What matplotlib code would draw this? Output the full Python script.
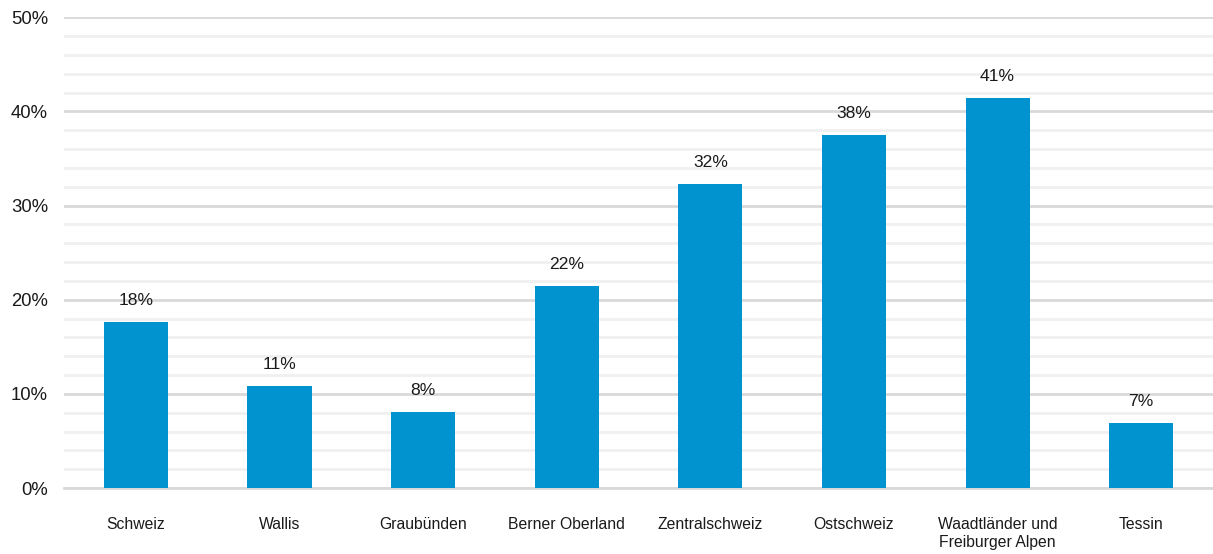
import numpy as np
from matplotlib import pyplot as plt
from matplotlib.ticker import MultipleLocator, FuncFormatter

plt.rcParams['font.family'] = ['Liberation Sans', 'DejaVu Sans']

regions = ['Schweiz', 'Wallis', 'Graubünden', 'Berner Oberland', 'Zentralschweiz',
           'Ostschweiz', 'Waadtländer und\nFreiburger Alpen', 'Tessin']
shares = [17.6, 10.8, 8.1, 21.5, 32.3, 37.5, 41.4, 6.9]
labels = ['18%', '11%', '8%', '22%', '32%', '38%', '41%', '7%']

fig = plt.figure(figsize=(12.13, 5.54), dpi=100)
ax = fig.add_axes([0.0528, 0.119, 0.9472, 0.85])

x = np.arange(len(regions))
bars = ax.bar(x, shares, width=0.446, color='#0093D0', zorder=3)
for b, lab in zip(bars, labels):
    ax.annotate(lab, (b.get_x() + b.get_width() / 2, b.get_height()),
                xytext=(0, 10), textcoords='offset points',
                ha='center', va='bottom', fontsize=12.6, color='#1a1a1a')

ax.set_xlim(-0.5, len(regions) - 0.5)
ax.set_ylim(0, 50)
ax.yaxis.set_major_locator(MultipleLocator(10))
ax.yaxis.set_minor_locator(MultipleLocator(2))
ax.yaxis.set_major_formatter(FuncFormatter(lambda v, p: f'{v:.0f}%'))
ax.grid(axis='y', which='major', color='#d9d9d9', linewidth=2, zorder=0)
ax.grid(axis='y', which='minor', color='#f0f0f0', linewidth=2, zorder=0)
ax.axhline(0, color='#d9d9d9', linewidth=2, zorder=2, clip_on=False)

ax.set_xticks(x)
ax.set_xticklabels(regions, fontsize=11.3, color='#1a1a1a', va='top')
ax.tick_params(axis='x', length=0, pad=21)
ax.tick_params(axis='y', which='both', length=0, labelsize=13.3, labelcolor='#1a1a1a', pad=11.5)
for s in ax.spines.values():
    s.set_visible(False)

fig.savefig('out.png', dpi=100)
